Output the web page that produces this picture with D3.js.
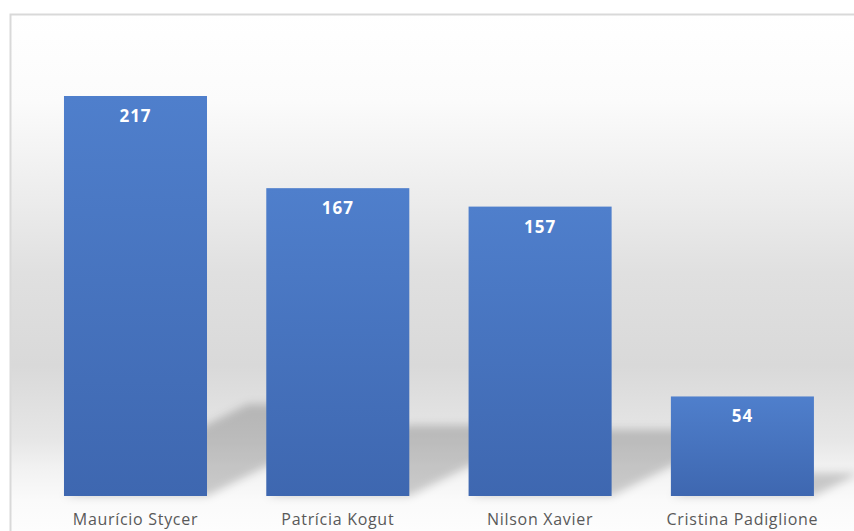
<!DOCTYPE html>
<html>
<head>
<meta charset="utf-8">
<script src="https://cdn.jsdelivr.net/npm/d3@7"></script>
<style>
  body { margin: 0; background: #fff; }
  svg { display: block; }
</style>
</head>
<body>
<svg id="chart"></svg>
<script>
var width = 854;
var height = 531;

var names = ["Maurício Stycer", "Patrícia Kogut", "Nilson Xavier", "Cristina Padiglione"];
var votes = [217, 167, 157, 54];

var data = names.map(function(n, i) { return { name: n, value: votes[i] }; });

var baseY = 496;
var topY = 96;

var svg = d3.select("#chart")
    .attr("width", width)
    .attr("height", height);

var defs = svg.append("defs");

var bg = defs.append("linearGradient")
    .attr("id", "bg")
    .attr("gradientUnits", "userSpaceOnUse")
    .attr("x1", 0).attr("y1", 14)
    .attr("x2", 0).attr("y2", 531);
[[0, "#ffffff"], [0.17, "#fbfbfb"], [0.36, "#ececec"], [0.5, "#e0e0e0"],
 [0.68, "#d9d9d9"], [0.82, "#e6e6e6"], [0.88, "#f2f2f2"], [0.94, "#fafafa"], [1, "#fdfdfd"]]
  .forEach(function(s) {
    bg.append("stop").attr("offset", s[0]).attr("stop-color", s[1]);
  });

var barGrad = defs.append("linearGradient")
    .attr("id", "barGrad")
    .attr("x1", 0).attr("y1", 0)
    .attr("x2", 0).attr("y2", 1);
barGrad.append("stop").attr("offset", 0).attr("stop-color", "#4f7fcc");
barGrad.append("stop").attr("offset", 1).attr("stop-color", "#3e67b0");

defs.append("filter")
    .attr("id", "blur")
    .attr("x", "-20%").attr("y", "-20%")
    .attr("width", "140%").attr("height", "140%")
  .append("feGaussianBlur")
    .attr("stdDeviation", 4);

// chart area frame
svg.append("rect")
    .attr("x", 10.5)
    .attr("y", 14.5)
    .attr("width", 900)
    .attr("height", 600)
    .attr("fill", "url(#bg)")
    .attr("stroke", "#d9d9d9")
    .attr("stroke-width", 2);

var xScale = d3.scaleBand()
    .domain(names)
    .range([34.3, 843.6])
    .paddingInner(0.293)
    .paddingOuter(0.1467);

var yScale = d3.scaleLinear()
    .domain([0, 217])
    .range([baseY, topY]);

// perspective shadows
svg.append("g")
    .attr("filter", "url(#blur)")
  .selectAll("polygon")
  .data(data)
  .enter()
  .append("polygon")
    .attr("fill", "#000")
    .attr("fill-opacity", 0.19)
    .attr("points", function(d) {
      var x0 = xScale(d.name);
      var x1 = x0 + xScale.bandwidth();
      var h = baseY - yScale(d.value);
      var dy = h * 0.23;
      var dx = dy * 2;
      return [[x0, baseY], [x1, baseY], [x1 + dx, baseY - dy], [x0 + dx, baseY - dy]].join(" ");
    });

svg.append("g")
  .selectAll("rect")
  .data(data)
  .enter()
  .append("rect")
    .attr("x", d => xScale(d.name))
    .attr("y", d => yScale(d.value))
    .attr("width", xScale.bandwidth())
    .attr("height", d => baseY - yScale(d.value))
    .attr("fill", "url(#barGrad)");

svg.append("g")
  .selectAll("text")
  .data(data)
  .enter()
  .append("text")
    .attr("x", d => xScale(d.name) + xScale.bandwidth() / 2)
    .attr("y", d => yScale(d.value) + 26)
    .style("text-anchor", "middle")
    .style("font-family", "'Open Sans', 'Noto Sans', sans-serif")
    .style("font-weight", "bold")
    .style("font-size", "17px")
    .style("letter-spacing", "1px")
    .style("fill", "#ffffff")
    .text(d => d.value);

var xAxis = d3.axisBottom(xScale)
    .tickSize(0)
    .tickPadding(0);

var axisG = svg.append("g")
    .attr("transform", "translate(0," + baseY + ")")
    .call(xAxis);

axisG.select(".domain").remove();
axisG.selectAll("text")
    .attr("y", 29)
    .attr("dy", 0)
    .style("font-family", "'Open Sans', 'Noto Sans', sans-serif")
    .style("font-size", "16px")
    .style("letter-spacing", "0.7px")
    .style("fill", "#595959");
</script>
</body>
</html>
